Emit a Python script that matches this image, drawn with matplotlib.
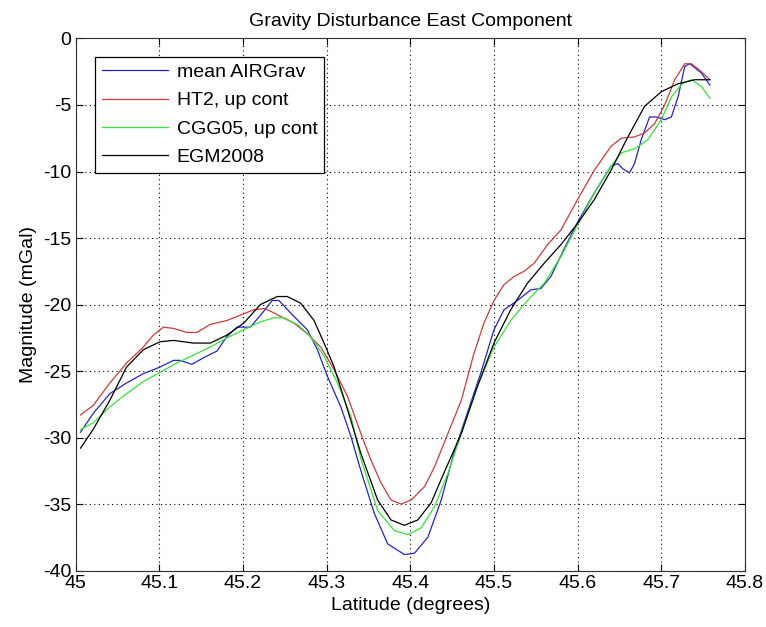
import matplotlib
matplotlib.use('Agg')
import matplotlib.pyplot as plt
import numpy as np

plt.rcParams['font.family'] = ['Liberation Sans', 'DejaVu Sans']
plt.rcParams['font.size'] = 14
plt.rcParams['axes.unicode_minus'] = False

# mean AIRGrav
lat_blue = [45.006, 45.021, 45.041, 45.061, 45.081, 45.101, 45.117, 45.125, 45.139, 45.153,
            45.169, 45.181, 45.193, 45.209, 45.225, 45.235, 45.243, 45.261, 45.277, 45.289,
            45.301, 45.317, 45.329, 45.341, 45.357, 45.373, 45.393, 45.405, 45.421, 45.437,
            45.452, 45.468, 45.484, 45.500, 45.512, 45.528, 45.544, 45.556, 45.568, 45.584,
            45.600, 45.620, 45.640, 45.648, 45.654, 45.662, 45.668, 45.676, 45.686, 45.694,
            45.704, 45.712, 45.720, 45.728, 45.734, 45.748, 45.758]
mag_blue = [-29.6, -28.2, -26.7, -25.9, -25.2, -24.7, -24.2, -24.2, -24.5, -24.0,
            -23.5, -22.4, -21.7, -21.7, -20.5, -19.7, -19.7, -20.9, -21.9, -23.4,
            -25.4, -27.7, -29.9, -32.5, -35.7, -38.0, -38.8, -38.7, -37.5, -34.7,
            -31.2, -28.2, -25.2, -21.9, -20.4, -19.7, -18.9, -18.8, -17.9, -15.8,
            -13.8, -11.6, -9.6, -9.4, -9.8, -10.1, -9.4, -7.6, -5.9, -5.9,
            -6.1, -5.9, -4.4, -2.1, -1.9, -2.6, -3.5]

# HT2, up cont
lat_red = [45.006, 45.021, 45.041, 45.061, 45.081, 45.093, 45.105, 45.117, 45.133, 45.145,
           45.161, 45.181, 45.201, 45.213, 45.225, 45.233, 45.245, 45.261, 45.277, 45.293,
           45.309, 45.325, 45.341, 45.353, 45.365, 45.377, 45.389, 45.401, 45.417, 45.429,
           45.445, 45.461, 45.476, 45.488, 45.500, 45.512, 45.524, 45.536, 45.548, 45.564,
           45.580, 45.600, 45.620, 45.640, 45.652, 45.668, 45.680, 45.692, 45.704, 45.716,
           45.728, 45.736, 45.748, 45.758]
mag_red = [-28.3, -27.6, -25.9, -24.4, -23.2, -22.3, -21.7, -21.8, -22.1, -22.1,
           -21.5, -21.2, -20.7, -20.4, -20.3, -20.5, -20.9, -21.4, -22.2, -23.2,
           -24.9, -26.9, -29.7, -31.7, -33.4, -34.7, -35.0, -34.7, -33.7, -32.2,
           -29.7, -27.2, -23.7, -21.4, -19.7, -18.5, -17.9, -17.5, -16.9, -15.5,
           -14.4, -12.1, -9.9, -8.1, -7.5, -7.4, -7.1, -6.4, -5.0, -3.1,
           -1.9, -1.9, -2.5, -3.1]

# CGG05, up cont
lat_green = [45.006, 45.021, 45.041, 45.061, 45.081, 45.101, 45.121, 45.141, 45.161, 45.181,
             45.201, 45.221, 45.237, 45.249, 45.265, 45.281, 45.297, 45.313, 45.329, 45.341,
             45.361, 45.381, 45.397, 45.413, 45.429, 45.445, 45.461, 45.480, 45.500, 45.520,
             45.540, 45.560, 45.580, 45.600, 45.620, 45.640, 45.652, 45.668, 45.684, 45.700,
             45.712, 45.725, 45.736, 45.748, 45.758]
mag_green = [-29.4, -28.9, -27.7, -26.7, -25.8, -25.1, -24.4, -23.8, -23.2, -22.5,
             -21.9, -21.3, -21.0, -21.0, -21.5, -22.4, -23.9, -25.9, -28.4, -31.6,
             -35.5, -37.0, -37.3, -36.8, -35.2, -32.7, -29.7, -26.2, -23.2, -21.2,
             -19.7, -18.4, -16.4, -14.0, -11.6, -9.6, -8.6, -8.3, -7.6, -6.1,
             -4.4, -3.4, -3.1, -3.6, -4.5]

# EGM2008
lat_black = [45.006, 45.021, 45.041, 45.061, 45.081, 45.101, 45.117, 45.141, 45.161, 45.181,
             45.201, 45.221, 45.241, 45.253, 45.269, 45.285, 45.297, 45.309, 45.325, 45.341,
             45.361, 45.377, 45.393, 45.409, 45.425, 45.440, 45.461, 45.480, 45.500, 45.520,
             45.540, 45.560, 45.580, 45.600, 45.620, 45.640, 45.660, 45.680, 45.700, 45.720,
             45.740, 45.758]
mag_black = [-30.8, -29.4, -27.2, -24.7, -23.4, -22.8, -22.7, -22.9, -22.9, -22.3,
             -21.4, -20.0, -19.4, -19.4, -19.9, -21.2, -22.9, -24.7, -27.9, -31.2,
             -34.7, -36.2, -36.6, -36.2, -34.9, -32.7, -29.7, -26.2, -22.9, -20.4,
             -18.4, -16.9, -15.5, -13.9, -12.1, -9.9, -7.4, -5.1, -4.0, -3.4,
             -3.1, -3.1]

xticks = [45, 45.1, 45.2, 45.3, 45.4, 45.5, 45.6, 45.7, 45.8]
xticklabels = ['45', '45.1', '45.2', '45.3', '45.4', '45.5', '45.6', '45.7', '45.8']
yticks = [-40, -35, -30, -25, -20, -15, -10, -5, 0]

fig = plt.figure(figsize=(7.66, 6.27), dpi=100)
ax = fig.add_axes([0.0986, 0.0901, 0.8740, 0.8485])

lw = 0.9
ax.plot(lat_blue, mag_blue, color='#2323c8', lw=lw, label='mean AIRGrav')
ax.plot(lat_red, mag_red, color='#cc3a3a', lw=lw, label='HT2, up cont')
ax.plot(lat_green, mag_green, color='#3ae03a', lw=lw, label='CGG05, up cont')
ax.plot(lat_black, mag_black, color='black', lw=lw, label='EGM2008')

ax.set_xlim(45, 45.8)
ax.set_ylim(-40, 0)
ax.set_xticks(xticks)
ax.set_xticklabels(xticklabels)
ax.set_yticks(yticks)
ax.grid(True, linestyle=(0, (1, 3)), color='black', lw=0.8)
ax.tick_params(direction='in', top=True, right=True, length=5, labelsize=14, pad=3)
for s in ax.spines.values():
    s.set_color('#303030')

ax.set_title('Gravity Disturbance East Component', fontsize=14, pad=9)
ax.set_xlabel('Latitude (degrees)', fontsize=14, labelpad=4)
ax.set_ylabel('Magnitude (mGal)', fontsize=14)

leg = ax.legend(loc='upper left', bbox_to_anchor=(0.029, 0.966), fancybox=False,
                framealpha=1, edgecolor='black', fontsize=14, handlelength=3.4,
                borderpad=0.35, labelspacing=0.55, handletextpad=0.45, borderaxespad=0)
leg.get_frame().set_linewidth(0.9)

fig.savefig('out.png', dpi=100)
